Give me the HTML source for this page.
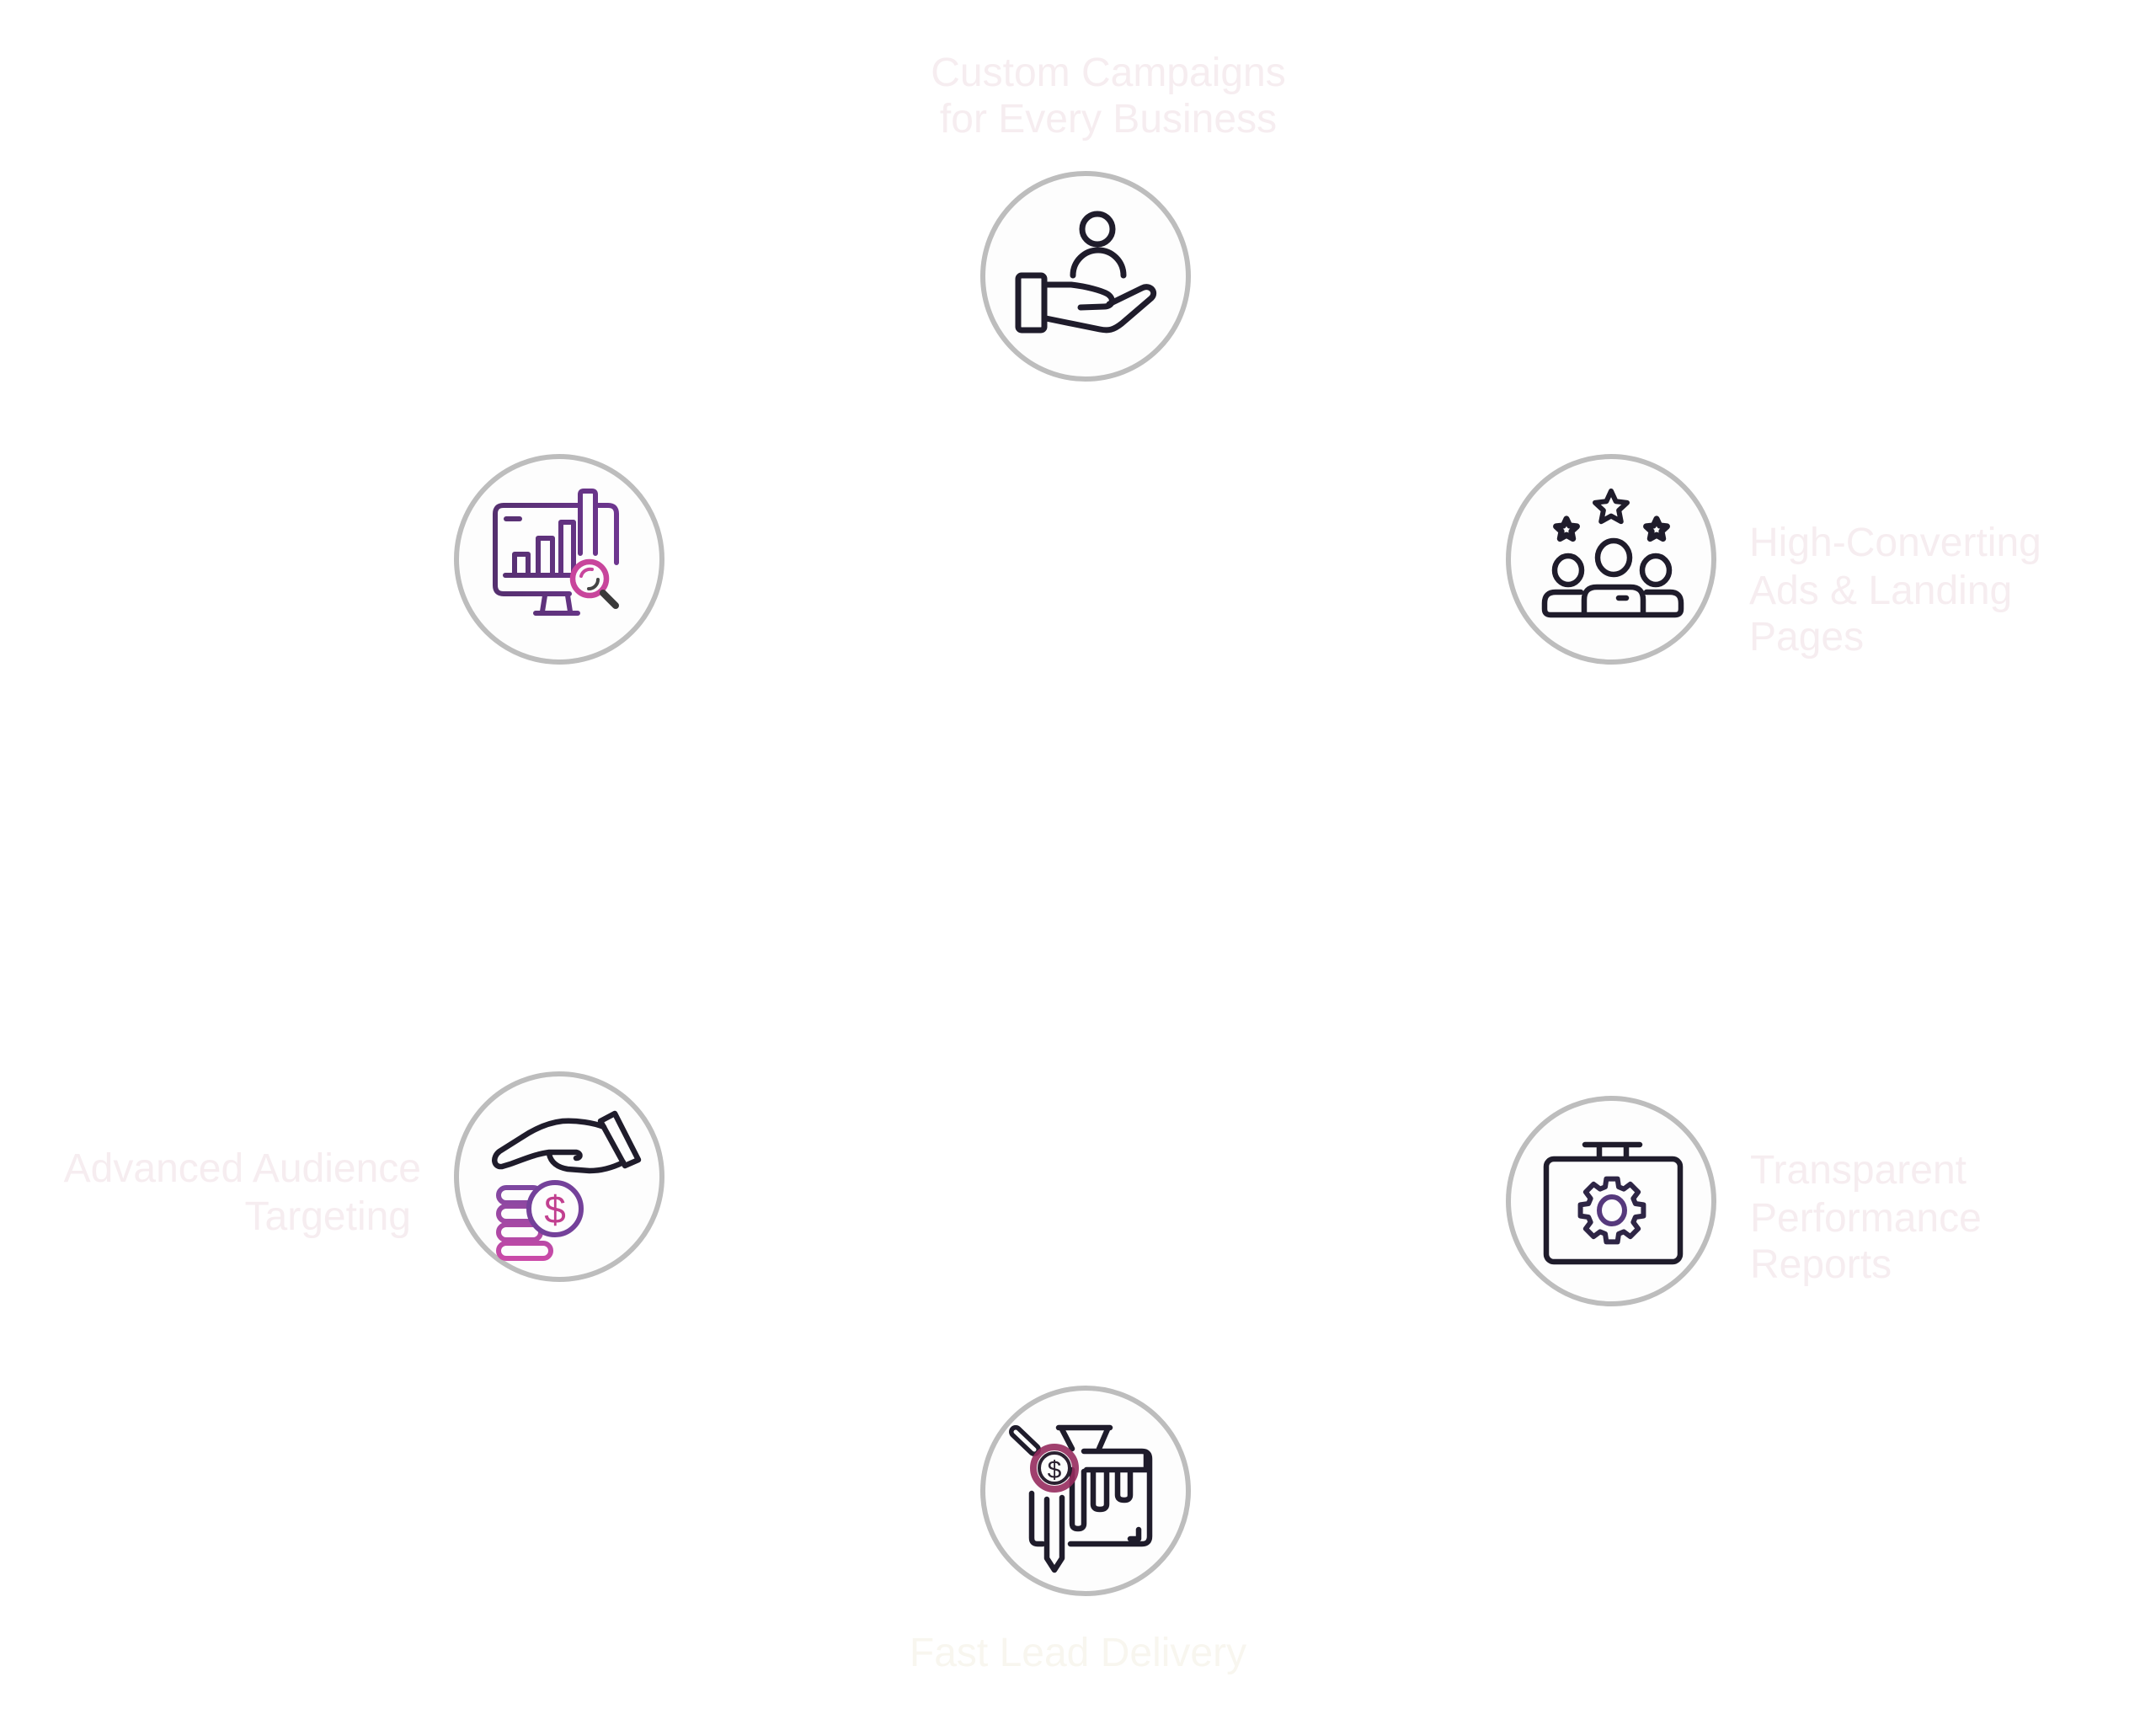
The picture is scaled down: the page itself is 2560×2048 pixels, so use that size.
<!DOCTYPE html>
<html>
<head>
<meta charset="utf-8">
<style>
html,body{margin:0;padding:0;background:#fff;}
body{width:2560px;height:2048px;overflow:hidden;}
svg{display:block;}
text{font-family:"Liberation Sans",sans-serif;}
</style>
</head>
<body>
<svg width="2560" height="2048" viewBox="0 0 2560 2048" xmlns="http://www.w3.org/2000/svg">
<defs>
<linearGradient id="coinG" x1="0" y1="1405" x2="0" y2="1500" gradientUnits="userSpaceOnUse">
<stop offset="0" stop-color="#7a47a0"/>
<stop offset="1" stop-color="#cf4aa8"/>
</linearGradient>
<linearGradient id="monG" x1="588" y1="0" x2="735" y2="0" gradientUnits="userSpaceOnUse">
<stop offset="0" stop-color="#55306f"/>
<stop offset="1" stop-color="#6e3690"/>
</linearGradient>
</defs>
<rect width="2560" height="2048" fill="#ffffff"/>

<!-- Labels -->
<g fill="#f6edf0" font-size="48">
<text x="1316" y="102" text-anchor="middle">Custom Campaigns</text>
<text x="1316" y="157" text-anchor="middle">for Every Business</text>
<text x="2077" y="660">High-Converting</text>
<text x="2077" y="717">Ads &amp; Landing</text>
<text x="2077" y="772">Pages</text>
<text x="500" y="1403" text-anchor="end">Advanced Audience</text>
<text x="488" y="1460" text-anchor="end">Targeting</text>
<text x="2078" y="1405">Transparent</text>
<text x="2078" y="1462">Performance</text>
<text x="2078" y="1517">Reports</text>
</g>
<text x="1280" y="1978" text-anchor="middle" font-size="48" fill="#f8f6ef">Fast Lead Delivery</text>

<!-- Circles -->
<g fill="#fdfdfd" stroke="#bdbdbd" stroke-width="6">
<circle cx="1289" cy="328" r="122"/>
<circle cx="664" cy="664" r="122"/>
<circle cx="1913" cy="664" r="122"/>
<circle cx="664" cy="1397" r="122"/>
<circle cx="1913" cy="1426" r="122"/>
<circle cx="1289" cy="1770" r="122"/>
</g>

<!-- Icon 1: hand with person -->
<g fill="none" stroke="#1f1c2b" stroke-width="7" stroke-linecap="round" stroke-linejoin="round">
<circle cx="1303" cy="272" r="18"/>
<path d="M1274,327 A30,30 0 0 1 1334,327"/>
<rect x="1209" y="327" width="31" height="65" rx="4"/>
<path d="M1241,338 H1272 C1290,340 1308,345 1315,349 C1324,355 1321,364 1311,364 L1283,365"/>
<path d="M1317,361 L1356,342 C1366,337 1374,347 1367,354 L1332,384 C1322,392 1316,393 1306,391 L1242,378"/>
</g>

<!-- Icon 2: monitor with chart -->
<g fill="none" stroke="url(#monG)" stroke-width="6" stroke-linecap="round" stroke-linejoin="round">
<path d="M686,600 H598 Q588,600 588,610 V695 Q588,705 598,705 H676"/>
<path d="M709,600 H722 Q732,600 732,610 V668"/>
<path d="M689,657 V587 Q689,583 693,583 H703 Q707,583 707,587 V657"/>
<path d="M600,683 H680"/>
<path d="M611,683 V658 H627 V683"/>
<path d="M639,683 V639 H656 V683"/>
<path d="M666,683 V620 H681 V683"/>
<path d="M601,616 H617"/>
<path d="M647,707 L644,726 M674,707 L677,726 M636,728 H686"/>
</g>
<circle cx="700" cy="687" r="20" fill="#fdfdfd" stroke="#c8459c" stroke-width="6.5"/>
<path d="M690,684 A11,11 0 0 1 703,676" fill="none" stroke="#c8459c" stroke-width="4" stroke-linecap="round"/>
<path d="M710,688 A11,11 0 0 1 699,699" fill="none" stroke="#444" stroke-width="4" stroke-linecap="round"/>
<path d="M716,704 L731,719" stroke="#3a3a3a" stroke-width="8" stroke-linecap="round"/>

<!-- Icon 3: team with stars -->
<g fill="none" stroke="#1f1c2b" stroke-width="6.5" stroke-linecap="round" stroke-linejoin="round">
<polygon transform="translate(1913,603) scale(20)" stroke-width="0.3" points="0,-1 0.282,-0.388 0.951,-0.309 0.457,0.148 0.588,0.809 0,0.48 -0.588,0.809 -0.457,0.148 -0.951,-0.309 -0.282,-0.388"/>
<polygon transform="translate(1860,629) scale(13)" stroke-width="0.55" points="0,-1 0.282,-0.388 0.951,-0.309 0.457,0.148 0.588,0.809 0,0.48 -0.588,0.809 -0.457,0.148 -0.951,-0.309 -0.282,-0.388"/>
<polygon transform="translate(1967,629) scale(13)" stroke-width="0.55" points="0,-1 0.282,-0.388 0.951,-0.309 0.457,0.148 0.588,0.809 0,0.48 -0.588,0.809 -0.457,0.148 -0.951,-0.309 -0.282,-0.388"/>
<ellipse cx="1916" cy="662" rx="19" ry="20"/>
<ellipse cx="1862" cy="677" rx="16" ry="17"/>
<ellipse cx="1966" cy="677" rx="16" ry="17"/>
<path d="M1881,729 V712 Q1881,697 1896,697 H1936 Q1951,697 1951,712 V729"/>
<path d="M1877,703 H1847 Q1834,703 1834,716 V723 Q1834,730 1841,730 H1989 Q1996,730 1996,723 V716 Q1996,703 1983,703 H1955"/>
<path d="M1922,710 H1931"/>
</g>

<!-- Icon 4: hand over coins -->
<g fill="none" stroke="url(#coinG)" stroke-width="6" stroke-linejoin="round">
<rect x="592" y="1476" width="62" height="18" rx="9"/>
<rect x="592" y="1454" width="50" height="18" rx="9"/>
<rect x="592" y="1432" width="50" height="18" rx="9"/>
<rect x="592" y="1410" width="50" height="18" rx="9"/>
</g>
<circle cx="659" cy="1435" r="31" fill="#fdfdfd" stroke="#74419a" stroke-width="6"/>
<text x="659" y="1452" text-anchor="middle" font-size="46" fill="#c13f8f">$</text>
<g fill="none" stroke="#1f1c2b" stroke-width="6.5" stroke-linecap="round" stroke-linejoin="round">
<polygon points="713,1331 730,1322 758,1377 742,1384"/>
<path d="M717,1338 C705,1333 685,1330 668,1331 C650,1333 635,1340 620,1350 L593,1367 C584,1374 586,1386 596,1385 L606,1382 C620,1377 636,1370 652,1368 L684,1368 C690,1369 690,1375 684,1375"/>
<path d="M652,1370 C654,1380 662,1386 674,1388 L700,1390 C715,1390 728,1386 740,1380"/>
</g>

<!-- Icon 5: case with gear -->
<g fill="none" stroke="#1f1c2b" stroke-width="6.5" stroke-linecap="round" stroke-linejoin="round">
<rect x="1836" y="1376" width="159" height="122" rx="9"/>
<path d="M1882,1359 H1947 M1899,1359 V1375 M1931,1359 V1375"/>
</g>
<polygon transform="translate(1914,1437)" fill="none" stroke="#2e2545" stroke-width="6" stroke-linejoin="round" points="27.88,-7.99 37.42,-6.60 37.42,6.60 27.88,7.99 25.36,14.06 31.13,21.80 21.80,31.13 14.06,25.36 7.99,27.88 6.60,37.42 -6.60,37.42 -7.99,27.88 -14.06,25.36 -21.80,31.13 -31.13,21.80 -25.36,14.06 -27.88,7.99 -37.42,6.60 -37.42,-6.60 -27.88,-7.99 -25.36,-14.06 -31.13,-21.80 -21.80,-31.13 -14.06,-25.36 -7.99,-27.88 -6.60,-37.42 6.60,-37.42 7.99,-27.88 14.06,-25.36 21.80,-31.13 31.13,-21.80 25.36,-14.06"/>
<ellipse cx="1914" cy="1437" rx="15" ry="16" fill="none" stroke="#56397c" stroke-width="6"/>

<!-- Icon 6: funnel / lead delivery -->
<g fill="none" stroke="#1f1c2b" stroke-width="6.5" stroke-linecap="round" stroke-linejoin="round">
<path d="M1257,1695 H1318 M1261,1697 L1273,1720 M1315,1697 L1305,1720"/>
<path d="M1287,1723 H1356 Q1365,1723 1365,1732 V1824 Q1365,1833 1356,1833 H1271"/>
<path d="M1290,1745 H1364 M1361,1726 V1745"/>
<path d="M1273,1745 V1809 Q1273,1815 1280,1815 Q1287,1815 1287,1809 V1747"/>
<path d="M1298,1747 V1786 Q1298,1792 1306,1792 Q1314,1792 1314,1786 V1747"/>
<path d="M1327,1747 V1775 Q1327,1781 1335,1781 Q1342,1781 1342,1775 V1747"/>
<path d="M1225,1773 V1826 Q1225,1833 1232,1833 H1238"/>
<path d="M1243,1780 V1850 L1252,1864 L1261,1850 V1778"/>
<path d="M1342,1827 H1352 V1816"/>
</g>
<path d="M1206,1700 L1228,1721" stroke="#1f1c2b" stroke-width="16" stroke-linecap="round"/>
<path d="M1206,1700 L1228,1721" stroke="#fdfdfd" stroke-width="5" stroke-linecap="round"/>
<circle cx="1252" cy="1743" r="25" fill="none" stroke="#962b5e" stroke-width="8" opacity="0.9"/>
<circle cx="1252" cy="1743" r="18" fill="#fdfdfd" stroke="#2a2030" stroke-width="4"/>
<text x="1252" y="1755" text-anchor="middle" font-size="30" fill="#2a2030">$</text>
</svg>
</body>
</html>
